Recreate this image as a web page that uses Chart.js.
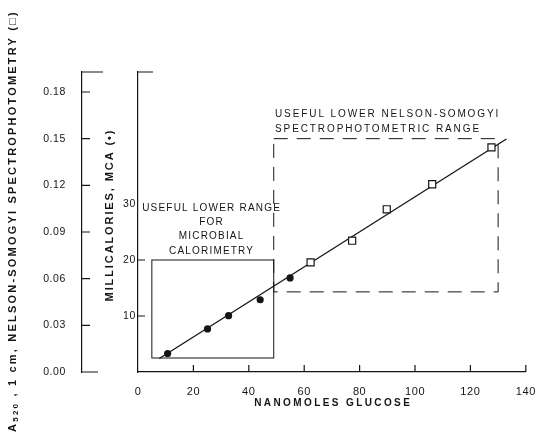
<!DOCTYPE html>
<html>
<head>
<meta charset="utf-8">
<script src="https://cdn.jsdelivr.net/npm/chart.js@4.4.1/dist/chart.umd.min.js"></script>
<style>
  body { margin: 0; background: #fff; }
  #wrap { width: 548px; height: 436px; }
</style>
</head>
<body>
<div id="wrap"><canvas id="glucoseChart" width="548" height="436"></canvas></div>
<script>
// values
var calGlucose = [10.7, 25.1, 32.7, 44.1, 54.9];
var calMca = [3.3, 7.7, 10.05, 12.9, 16.8];
var specGlucose = [62.3, 77.3, 89.8, 106.2, 127.6];
var specA520 = [0.0705, 0.0844, 0.1046, 0.1207, 0.1444];
var fitGlucose = [7.7, 133];
var fitMca = [2.4, 41.6];

var xTicks = [0, 20, 40, 60, 80, 100, 120, 140];
var mcaTicks = [10, 20, 30];
var mcaTickMarks = [10, 20];
var a520Ticks = [0, 0.03, 0.06, 0.09, 0.12, 0.15, 0.18];

// useful ranges
var calRangeGlucose = [5, 49];
var calRangeMca = [2.5, 20];
var specRangeGlucose = [49, 130];
var specRangeA520 = [0.0515, 0.15];

var ink = '#151515';
var FONT = '"Liberation Sans", Arial, "DejaVu Sans", sans-serif';

function toPoints(xs, ys) {
    return xs.map(function (x, i) { return { x: x, y: ys[i] }; });
}

function spacedText(ctx, text, x, y, font, spacing, align) {
    ctx.font = font;
    ctx.letterSpacing = spacing + 'px';
    var w = ctx.measureText(text).width - spacing;
    ctx.textAlign = 'left';
    ctx.fillText(text, align === 'left' ? x : x - w / 2, y);
}

var decor = {
    id: 'decor',
    beforeDraw: function (chart) {
        chart.ctx.letterSpacing = '0.6px';
    },
    afterDraw: function (chart) {
        var ctx = chart.ctx, a = chart.chartArea;
        var xs = chart.scales.x, mca = chart.scales.mca, abs = chart.scales.a520;
        ctx.save();
        ctx.strokeStyle = ink;
        ctx.fillStyle = ink;
        ctx.lineWidth = 1.2;

        // axis caps and inward ticks
        var ox = abs.right;
        ctx.beginPath();
        ctx.moveTo(ox, a.top); ctx.lineTo(ox + 21, a.top);
        ctx.moveTo(ox, a.bottom); ctx.lineTo(ox + 16, a.bottom);
        a520Ticks.forEach(function (v) {
            if (v === 0) return;
            var y = abs.getPixelForValue(v);
            ctx.moveTo(ox, y); ctx.lineTo(ox + 8, y);
        });
        ctx.moveTo(a.left, a.top); ctx.lineTo(a.left + 15, a.top);
        mcaTickMarks.forEach(function (v) {
            var y = mca.getPixelForValue(v);
            ctx.moveTo(a.left, y); ctx.lineTo(a.left + 7, y);
        });
        xTicks.forEach(function (v) {
            if (v === 0) return;
            var x = xs.getPixelForValue(v);
            ctx.moveTo(x, a.bottom); ctx.lineTo(x, a.bottom - 7);
        });
        ctx.stroke();

        // solid box: microbial calorimetry
        ctx.lineWidth = 1;
        var x1 = xs.getPixelForValue(calRangeGlucose[0]), x2 = xs.getPixelForValue(calRangeGlucose[1]);
        var y1 = mca.getPixelForValue(calRangeMca[1]), y2 = mca.getPixelForValue(calRangeMca[0]);
        ctx.strokeRect(x1, y1, x2 - x1, y2 - y1);

        // dashed box: nelson-somogyi
        x1 = xs.getPixelForValue(specRangeGlucose[0]); x2 = xs.getPixelForValue(specRangeGlucose[1]);
        y1 = abs.getPixelForValue(specRangeA520[1]); y2 = abs.getPixelForValue(specRangeA520[0]);
        ctx.setLineDash([14, 9]);
        ctx.strokeRect(x1, y1, x2 - x1, y2 - y1);
        ctx.setLineDash([]);

        // annotations
        ctx.textBaseline = 'middle';
        var note = '10px ' + FONT;
        spacedText(ctx, 'USEFUL LOWER RANGE', 211, 208, note, 1.2);
        spacedText(ctx, 'FOR', 211, 222, note, 1.2);
        spacedText(ctx, 'MICROBIAL', 211, 236, note, 1.2);
        spacedText(ctx, 'CALORIMETRY', 211, 251, note, 1.2);
        spacedText(ctx, 'USEFUL LOWER NELSON-SOMOGYI', 275, 114, note, 1.9, 'left');
        spacedText(ctx, 'SPECTROPHOTOMETRIC RANGE', 275, 129, note, 1.9, 'left');

        // axis titles
        spacedText(ctx, 'NANOMOLES GLUCOSE', 332, 403, 'bold 10px ' + FONT, 2.4);

        ctx.save();
        ctx.translate(110, 216);
        ctx.rotate(-Math.PI / 2);
        spacedText(ctx, 'MILLICALORIES, MCA (\u2022)', 0, 0, 'bold 11px ' + FONT, 1.9);
        ctx.restore();

        ctx.save();
        ctx.translate(13, 221);
        ctx.rotate(-Math.PI / 2);
        var parts = [
            { t: 'A', f: 'bold 11px ' + FONT, dy: 0 },
            { t: '520', f: 'bold 8px ' + FONT, dy: 3 },
            { t: ' , 1 cm, NELSON-SOMOGYI SPECTROPHOTOMETRY (\u25A1)', f: 'bold 11px ' + FONT, dy: 0 }
        ];
        var sp = 2.2, total = 0;
        parts.forEach(function (p) {
            ctx.font = p.f; ctx.letterSpacing = sp + 'px';
            p.w = ctx.measureText(p.t).width;
            total += p.w;
        });
        var px = -total / 2;
        ctx.textAlign = 'left';
        parts.forEach(function (p) {
            ctx.font = p.f; ctx.letterSpacing = sp + 'px';
            ctx.fillText(p.t, px, p.dy);
            px += p.w;
        });
        ctx.restore();

        ctx.restore();
    }
};

var xTickFont = { family: FONT, size: 11 };
var yTickFont = { family: FONT, size: 10.5 };

var ctx = document.getElementById('glucoseChart').getContext('2d');
var glucoseChart = new Chart(ctx, {
    type: 'scatter',
    data: {
        datasets: [{
            label: 'MCA',
            data: toPoints(calGlucose, calMca),
            yAxisID: 'mca',
            pointStyle: 'circle',
            pointRadius: 3.6,
            backgroundColor: ink,
            borderColor: ink,
            borderWidth: 0
        }, {
            label: 'A520',
            data: toPoints(specGlucose, specA520),
            yAxisID: 'a520',
            pointStyle: 'rect',
            pointRadius: 5,
            backgroundColor: '#fff',
            borderColor: ink,
            borderWidth: 1.2
        }, {
            label: 'fit',
            data: toPoints(fitGlucose, fitMca),
            yAxisID: 'mca',
            showLine: true,
            pointRadius: 0,
            borderColor: ink,
            borderWidth: 1.3,
            fill: false
        }]
    },
    options: {
        responsive: false,
        animation: false,
        layout: { padding: { top: 72, right: 12, left: 0, bottom: 0 } },
        plugins: {
            legend: { display: false },
            tooltip: { enabled: false }
        },
        scales: {
            x: {
                type: 'linear',
                min: 0,
                max: 140,
                afterBuildTicks: function (s) { s.ticks = xTicks.map(function (v) { return { value: v }; }); },
                afterFit: function (s) { s.height = 64; },
                ticks: { color: ink, font: xTickFont, padding: 13, maxRotation: 0 },
                grid: { display: false, drawTicks: false },
                border: { display: true, color: ink, width: 1.2 }
            },
            mca: {
                type: 'linear',
                position: 'left',
                weight: 0,
                min: 0,
                max: 53.57,
                afterBuildTicks: function (s) { s.ticks = mcaTicks.map(function (v) { return { value: v }; }); },
                afterFit: function (s) { s.width = 56; },
                ticks: { color: ink, font: { family: FONT, size: 10.5 }, padding: 2 },
                grid: { display: false, drawTicks: false },
                border: { display: true, color: ink, width: 1.2 }
            },
            a520: {
                type: 'linear',
                position: 'left',
                weight: 1,
                min: 0,
                max: 0.19286,
                afterBuildTicks: function (s) { s.ticks = a520Ticks.map(function (v) { return { value: v }; }); },
                afterFit: function (s) { s.width = 82; },
                ticks: {
                    color: ink, font: yTickFont, padding: 16,
                    callback: function (v) { return v.toFixed(2); }
                },
                grid: { display: false, drawTicks: false },
                border: { display: true, color: ink, width: 1.2 }
            }
        }
    },
    plugins: [decor]
});
</script>
</body>
</html>
